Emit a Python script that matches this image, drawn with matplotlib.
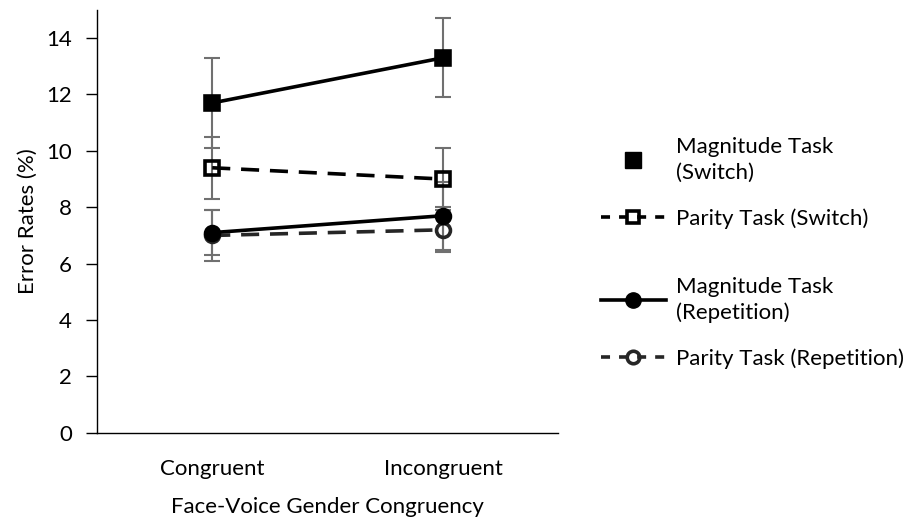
import matplotlib
matplotlib.use('Agg')
import matplotlib.pyplot as plt
from matplotlib.lines import Line2D

plt.rcParams['font.family'] = ['Lato', 'DejaVu Sans']

conditions = ['Congruent', 'Incongruent']
mag_switch = [11.7, 13.3]
mag_switch_err = [1.6, 1.4]
par_switch = [9.4, 9.0]
par_switch_err = [1.1, 1.1]
mag_rep = [7.1, 7.7]
mag_rep_err = [0.8, 1.2]
par_rep = [7.0, 7.2]
par_rep_err = [0.9, 0.8]

x = range(len(conditions))
ecol = '#707070'
fs = 16

fig = plt.figure(figsize=(9.05, 5.19), dpi=100)
ax = fig.add_axes([0.107, 0.166, 0.51, 0.815])

def draw(vals, errs, ls, marker, mfc, col):
    ax.errorbar(x, vals, yerr=errs, fmt='none', ecolor=ecol, elinewidth=1.5,
                capsize=6, capthick=1.5, zorder=2)
    ax.plot(x, vals, color=col, lw=2.6, ls=ls, marker=marker, markersize=10,
            mfc=mfc, mec=col, mew=2.6, zorder=3, dashes=(5, 3) if ls == '--' else (None, None))

draw(par_rep, par_rep_err, '--', 'o', 'none', '#262626')
draw(mag_rep, mag_rep_err, '-', 'o', 'black', 'black')
draw(par_switch, par_switch_err, '--', 's', 'none', 'black')
draw(mag_switch, mag_switch_err, '-', 's', 'black', 'black')

ax.set_xlim(-0.5, 1.5)
ax.set_ylim(0, 15)
ax.set_yticks(range(0, 15, 2))
ax.set_xticks(list(x))
ax.set_xticklabels(conditions)
ax.tick_params(axis='x', length=0, labelsize=fs, pad=19)
ax.tick_params(axis='y', length=8, width=1, labelsize=fs, pad=10)
ax.spines['top'].set_visible(False)
ax.spines['right'].set_visible(False)
for s in ['left', 'bottom']:
    ax.spines[s].set_color('black')
    ax.spines[s].set_linewidth(1)
ax.set_ylabel('Error Rates (%)', fontsize=fs, labelpad=6)
ax.set_xlabel('Face-Voice Gender Congruency', fontsize=fs, labelpad=13)

sq_h = [
    Line2D([], [], ls='none', marker='s', markersize=11, color='black'),
    Line2D([], [], ls='--', dashes=(2.5, 2.5), lw=2.6, marker='s', markersize=9, mfc='none',
           mec='black', mew=2.6, color='black'),
]
ci_h = [
    Line2D([], [], ls='-', lw=2.6, marker='o', markersize=11, color='black'),
    Line2D([], [], ls='--', dashes=(2.5, 2.5), lw=2.6, marker='o', markersize=9, mfc='none',
           mec='#262626', mew=2.6, color='#262626'),
]
sq_l = ['Magnitude Task\n(Switch)', 'Parity Task (Switch)']
ci_l = ['Magnitude Task\n(Repetition)', 'Parity Task (Repetition)']

for h, l, yy in [(sq_h, sq_l, 0.647), (ci_h, ci_l, 0.378)]:
    leg = fig.legend(h, l, loc='center left', bbox_to_anchor=(0.647, yy),
                     frameon=False, fontsize=fs, handlelength=2.9, handletextpad=0.45,
                     labelspacing=1.15, borderpad=0.2)
    for t in leg.get_texts():
        t.set_linespacing(1.35)

fig.savefig('out.png', dpi=100)
